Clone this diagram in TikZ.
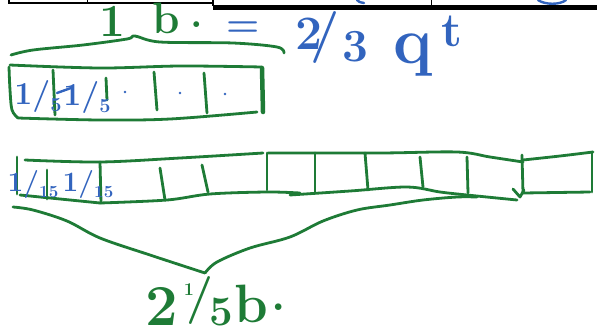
\documentclass[tikz,border=0pt]{standalone}
\definecolor{pen}{HTML}{1E7B36}
\definecolor{ink}{HTML}{3264BE}
\newcommand{\fs}[1]{\fontsize{#1}{#1}\selectfont}
\newcommand{\hfr}[3]{#1/\raisebox{-0.5ex}{\fs{#3}#2}}
\begin{document}
\begin{tikzpicture}[x=1pt,y=-1pt,
  gl/.style={draw=pen,line width=2.8pt,line cap=round,line join=round},
  bl/.style={draw=ink,line width=2.4pt,line cap=round,line join=round},
  gt/.style={text=pen,inner sep=0pt,anchor=center,font=\bfseries},
  bt/.style={text=ink,inner sep=0pt,anchor=center,font=\bfseries},
  sm/.style={smooth,tension=0.55}]
\useasboundingbox (0,0) rectangle (597,333);
% black remains at top
\draw[line width=1.2pt] (9,0) -- (9,3) -- (213,3);
\draw[line width=1pt] (87,0) -- (87,3);
\fill (213,5) rectangle (597,10);
\draw[line width=1.5pt] (213,0) -- (213,6);
\draw[line width=1pt] (431,0) -- (431,6);
\draw[bl] (357,0) .. controls (359,2) .. (364,3);
\draw[bl] (538,0) .. controls (545,5) and (560,5) .. (566,0);
% title
\node[gt] (one) at (112,21) {\fs{46}1};
\node[gt] (bee) at (166,18) {\fs{44}b};
\node[gt] (dot) at (197,25) {\fs{40}.};
\node[bt] (eq) at (243,29) {\fs{38}=};
\node[bt] (two) at (309,34) {\fs{48}2};
\node[bt] (sl) at (325,37) {\fs{52}/};
\node[bt] (thr) at (355,47) {\fs{46}3};
\node[bt] (q) at (413,55) {\fs{66}q};
\node[bt] (t) at (452,31) {\fs{48}t};
% top brace
\draw[gl] plot[sm] coordinates {(11,55) (33,50) (83,45) (127,39) (135,36) (160,42) (233,43) (277,47) (284,53)};
% top bar
\draw[gl] plot[sm] coordinates {(10,65) (100,68) (180,66) (262,67)};
\draw[gl] plot[sm] coordinates {(9,67) (10,90) (12,110) (18,118)};
\draw[gl] plot[sm] coordinates {(18,118) (100,120) (170,119) (257,112)};
\draw[draw=pen,line width=4.5pt,line cap=round] (262,68) -- (263,112);
\draw[gl] (53,70) -- (55,115);
\draw[gl] (106,78) -- (107,100);
\draw[gl] (154,72) -- (157,110);
\draw[gl] (204,73) -- (207,113);
\node[bt] (a1) at (38,96) {\fs{32}\hfr{1}{5}{20}};
\node[bt] (a2) at (87,97) {\fs{32}\hfr{1}{5}{20}};
\draw[bl] (57,93) -- (71,88);
\fill[ink] (125,92) circle (1.4) (180,93) circle (1.4) (225,94) circle (1.4);
% bottom bar
\draw[gl] (17,157) -- (17,194);
\draw[gl] plot[sm] coordinates {(25,160) (100,162) (180,158) (263,153)};
\draw[gl] plot[sm] coordinates {(268,153) (380,153) (457,152) (490,157) (523,162)};
\draw[gl] plot[sm] coordinates {(523,160) (560,156) (593,152)};
\draw[gl] (592,152) -- (592,192);
\draw[gl] plot[sm] coordinates {(20,195) (100,203)};
\draw[gl] plot[sm] coordinates {(100,203) (167,200) (210,194) (267,192) (300,193)};
\draw[gl] plot[sm] coordinates {(290,195) (350,191) (407,187) (440,192) (467,195) (517,200)};
\draw[gl] (523,193) -- (590,192);
\draw[gl] (47,170) -- (47,199);
\draw[gl] (100,162) -- (101,203);
\draw[gl] (160,168) -- (165,200);
\draw[gl] (202,165) -- (208,192);
\draw[gl] (267,153) -- (267,190);
\draw[gl] (315,153) -- (315,192);
\draw[gl] (365,153) -- (368,190);
\draw[gl] (420,157) -- (423,187);
\draw[gl] (467,157) -- (468,193);
\draw[gl] (522,155) -- (523,193);
\draw[gl] (513,189) -- (520,197) -- (524,190);
\node[bt] (b1) at (33,184) {\fs{28}\hfr{1}{15}{17}};
\node[bt] (b2) at (88,184) {\fs{28}\hfr{1}{15}{17}};
% bottom brace
\draw[gl] plot[sm] coordinates {(13,207) (33,210) (67,221) (100,238) (150,255) (205,273)};
\draw[gl] plot[sm] coordinates {(205,273) (217,262) (250,248) (290,237) (323,221) (357,210) (390,205) (423,200) (457,197) (477,197)};
% bottom label
\node[gt] (c2) at (162,306) {\fs{58}2};
\node[gt] (c1) at (189,290) {\fs{18}1};
\node[gt] (cs) at (200,300) {\fs{48}/};
\node[gt] (c5) at (221,312) {\fs{42}5};
\node[gt] (cb) at (251,304) {\fs{54}b};
\node[gt] (cd) at (279,307) {\fs{46}.};
\end{tikzpicture}
\end{document}
